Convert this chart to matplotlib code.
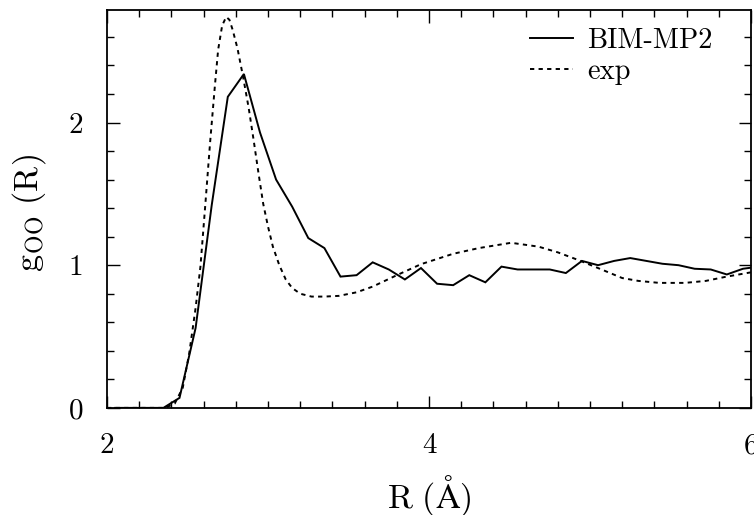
import matplotlib
matplotlib.use("Agg")
import matplotlib.pyplot as plt
from matplotlib.ticker import MultipleLocator

plt.rcParams["font.family"] = "serif"
plt.rcParams["font.serif"] = ["cmr10", "DejaVu Serif"]
plt.rcParams["mathtext.fontset"] = "cm"
plt.rcParams["axes.formatter.use_mathtext"] = True

# BIM-MP2 simulated O-O radial distribution function
r_sim = [2.05, 2.15, 2.25, 2.35, 2.45, 2.55, 2.65, 2.75, 2.85, 2.95,
         3.05, 3.15, 3.25, 3.35, 3.45, 3.55, 3.65, 3.75, 3.85, 3.95,
         4.05, 4.15, 4.25, 4.35, 4.45, 4.55, 4.65, 4.75, 4.85, 4.95,
         5.05, 5.15, 5.25, 5.35, 5.45, 5.55, 5.65, 5.75, 5.85, 5.95, 6.05]
g_sim = [0.0, 0.0, 0.0, 0.0, 0.07, 0.56, 1.42, 2.18, 2.34, 1.93,
         1.60, 1.41, 1.19, 1.12, 0.92, 0.93, 1.02, 0.97, 0.90, 0.98,
         0.87, 0.86, 0.93, 0.88, 0.99, 0.97, 0.97, 0.97, 0.945, 1.03,
         1.00, 1.03, 1.05, 1.03, 1.01, 1.00, 0.975, 0.97, 0.935, 0.975, 0.99]

# Experimental O-O radial distribution function
r_exp = [2.0, 2.2, 2.36, 2.42, 2.47, 2.51, 2.55, 2.58, 2.61, 2.64, 2.67,
         2.69, 2.715, 2.74, 2.76, 2.78, 2.81, 2.845, 2.88, 2.91, 2.94,
         2.97, 3.0, 3.03, 3.07, 3.11, 3.15, 3.20, 3.27, 3.35, 3.44,
         3.55, 3.65, 3.80, 3.95, 4.15, 4.31, 4.51, 4.68, 4.80, 4.93,
         5.05, 5.20, 5.30, 5.43, 5.59, 5.72, 5.84, 6.0]
g_exp = [0.0, 0.0, 0.0, 0.03, 0.14, 0.38, 0.70, 0.99, 1.42, 1.86, 2.26,
         2.51, 2.68, 2.74, 2.72, 2.65, 2.52, 2.32, 2.10, 1.88, 1.65,
         1.43, 1.27, 1.13, 1.00, 0.90, 0.84, 0.80, 0.78, 0.78, 0.785,
         0.81, 0.85, 0.93, 1.007, 1.08, 1.12, 1.157, 1.13, 1.09, 1.035,
         0.98, 0.91, 0.89, 0.876, 0.876, 0.89, 0.918, 0.95]

x_ticks = [2, 4, 6]
x_tick_labels = ["2", "4", "6"]
y_ticks = [0, 1, 2]
y_tick_labels = ["0", "1", "2"]

fig = plt.figure(figsize=(7.54, 5.15), dpi=100)
ax = fig.add_axes([0.142, 0.208, 0.854, 0.773])

ax.plot(r_sim, g_sim, color="black", lw=1.4, solid_joinstyle="miter",
        label="BIM-MP2")
ax.plot(r_exp, g_exp, color="black", lw=1.4, linestyle=(0, (2.2, 2.2)),
        label="exp")

ax.set_xlim(2, 6)
ax.set_ylim(0, 2.79)

ax.set_xticks(x_ticks)
ax.set_xticklabels(x_tick_labels)
ax.set_yticks(y_ticks)
ax.set_yticklabels(y_tick_labels)
ax.xaxis.set_minor_locator(MultipleLocator(0.2))
ax.yaxis.set_minor_locator(MultipleLocator(0.2))

ax.tick_params(which="both", direction="in", top=True, right=True,
               width=1.0, color="black")
ax.tick_params(which="major", length=9)
ax.tick_params(which="minor", length=5)
ax.tick_params(axis="x", which="major", labelsize=21, pad=18)
ax.tick_params(axis="y", which="major", labelsize=21, pad=17)

for sp in ax.spines.values():
    sp.set_linewidth(1.3)

ax.set_xlabel(r"$\mathrm{R\ (\AA)}$", fontsize=24.5)
ax.set_ylabel(r"$\mathrm{g_{OO}\ (R)}$", fontsize=24.5)
ax.xaxis.set_label_coords(0.5, -0.163)
ax.yaxis.set_label_coords(-0.092, 0.49)

leg = ax.legend(loc="upper right", frameon=False, fontsize=20.5,
                handlelength=1.5, handletextpad=0.5, labelspacing=0.15,
                borderaxespad=0.0, borderpad=0.0,
                bbox_to_anchor=(0.94, 0.955))

fig.savefig("out.png", dpi=100)
